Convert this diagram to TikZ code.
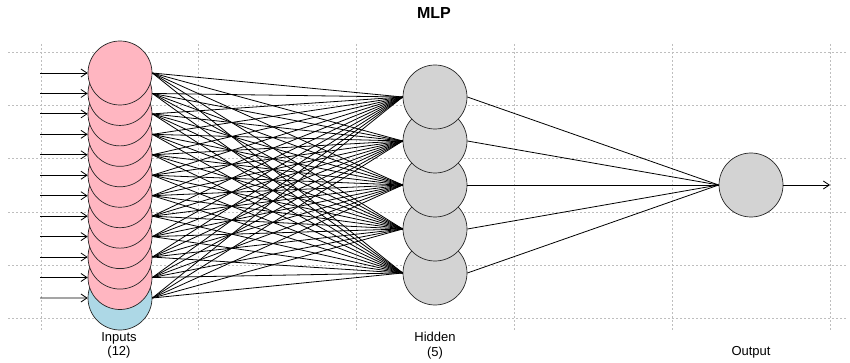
\documentclass[tikz,border=0pt]{standalone}
\usepackage{fontspec}
\setmainfont{Liberation Sans}
\usetikzlibrary{arrows.meta}
\definecolor{inpink}{HTML}{FFB6C1}
\definecolor{biasblue}{HTML}{ADD8E6}
\definecolor{hgray}{HTML}{D3D3D3}
\definecolor{gridc}{HTML}{BEBEBE}
\begin{document}
\begin{tikzpicture}[x=1pt,y=-1pt,
  neuron/.style={circle,draw=black!85,line width=0.7pt,minimum size=64pt,inner sep=0pt},
  inneuron/.style={neuron,fill=inpink},
  hneuron/.style={neuron,fill=hgray},
  gridline/.style={draw=gridc,line width=0.7pt,dash pattern=on 2pt off 2pt},
  conn/.style={draw=black,line width=0.8pt},
  ioarrow/.style={draw=black,line width=0.8pt,-{Straight Barb[length=6pt,width=8pt]}},
  lbl/.style={font=\fontsize{13}{14.7}\selectfont,align=center,inner sep=0pt}
]
\useasboundingbox (0,0) rectangle (850,363);
% grid
\foreach \x in {41,198.8,356.6,514.4,672.2,830}
  \draw[gridline] (\x,44) -- (\x,330);
\foreach \y in {52.3,105.5,158.7,211.9,265.1,318.3}
  \draw[gridline] (8,\y) -- (846,\y);
% inputs (bottom drawn first)
\node[inneuron,fill=biasblue] (i12) at (120,298) {};
\foreach \k in {11,10,...,1}
  \node[inneuron] (i\k) at (120,{73+20.45*(\k-1)}) {};
% hidden (bottom drawn first)
\foreach \j in {5,4,...,1}
  \node[hneuron] (h\j) at (435,{97+44*(\j-1)}) {};
% output
\node[hneuron] (o) at (751,185) {};
% input arrows
\foreach \k in {1,...,12} {
  \coordinate (a\k) at (40,{73+20.45*(\k-1)});
  \draw[ioarrow] (a\k) -- (i\k.west);
}
% connections
\foreach \k in {1,...,12}
  \foreach \j in {1,...,5}
    \draw[conn] (i\k.east) -- (h\j.west);
\foreach \j in {1,...,5}
  \draw[conn] (h\j.east) -- (o.west);
\coordinate (oend) at (830,185);
\draw[ioarrow] (o.east) -- (oend);
% labels
\node[lbl] (lin) at (119,345.3) {Inputs\\(12)};
\node[lbl] (lhid) at (435,345.3) {Hidden\\(5)};
\node[lbl] (lout) at (751,352.7) {Output};
\node[font=\bfseries\fontsize{16}{19}\selectfont,inner sep=0pt] (title) at (434,12.5) {MLP};
\end{tikzpicture}
\end{document}
